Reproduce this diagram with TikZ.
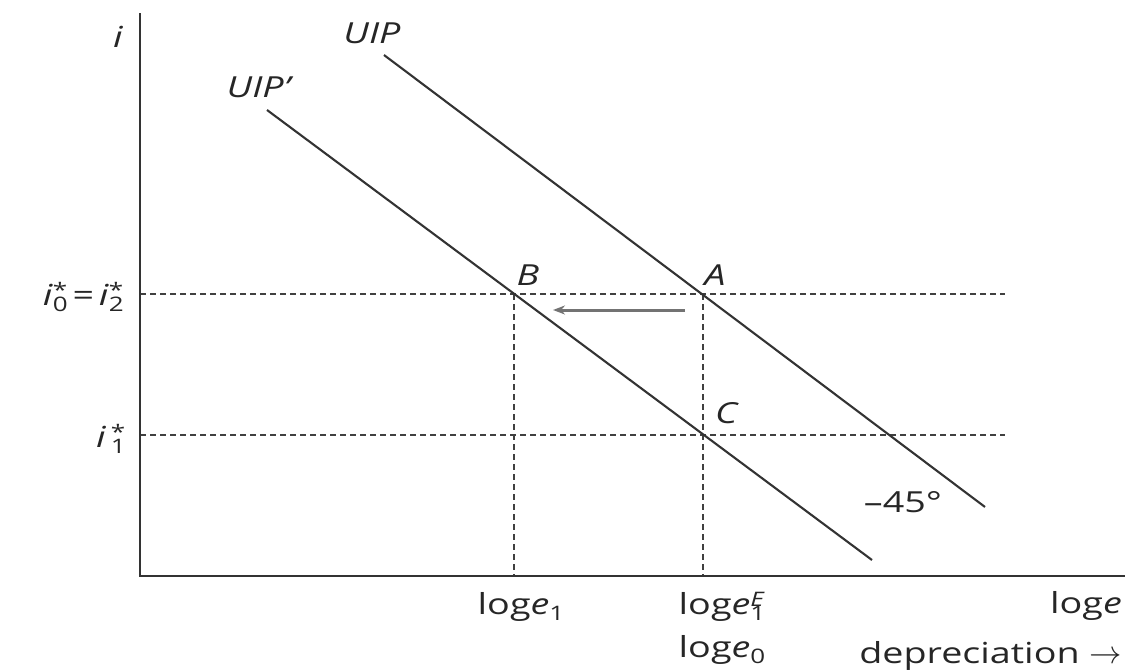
\documentclass[tikz,border=0pt]{standalone}
\usepackage{fontspec}
\setmainfont{Open Sans}[FakeStretch=1.3]
\usetikzlibrary{arrows.meta}
\newcommand\bigfs{\fontsize{29}{34}\selectfont}
\newcommand\smfs{\fontsize{20}{22}\selectfont}
\newcommand\supsub[2]{\raisebox{-0.4ex}{\smfs\begin{tabular}[b]{@{}l@{}}#1\\[-8pt]#2\end{tabular}}}
\newcommand\subonly[1]{\raisebox{-0.4ex}{\smfs #1}}
\begin{document}
\begin{tikzpicture}[x=1pt,y=-1pt,
  lbl/.style={inner sep=0pt,font=\bigfs,text=black!85},
  axisline/.style={line width=2.4pt,draw=black!80},
  curve/.style={line width=2.1pt,draw=black!80},
  guide/.style={line width=2pt,draw=black!75,dash pattern=on 6pt off 4pt},
  shiftarrow/.style={line width=3pt,draw=black!55,-{Stealth[length=12pt,width=9pt]}}]
\useasboundingbox (0,0) rectangle (1125,672);
% coordinates
\coordinate (O) at (140,576);
\coordinate (Ytop) at (140,13);
\coordinate (Xend) at (1125,576);
\coordinate (U1) at (384,55);
\coordinate (U2) at (985,507);
\coordinate (P1) at (267,110);
\coordinate (P2) at (872,560);
\coordinate (A) at (703,294);
\coordinate (B) at (514,294);
\coordinate (C) at (703,435);
\coordinate (H0l) at (140,294);
\coordinate (H0r) at (1005,294);
\coordinate (H1l) at (140,435);
\coordinate (H1r) at (1005,435);
\coordinate (Bb) at (514,576);
\coordinate (Ab) at (703,576);
\coordinate (Ar1) at (685,310);
\coordinate (Ar2) at (553,310);
% guides
\draw[guide] (H0l) -- (H0r);
\draw[guide] (H1l) -- (H1r);
\draw[guide] (B) -- (Bb);
\draw[guide] (A) -- (Ab);
% curves
\draw[curve] (U1) -- (U2);
\draw[curve] (P1) -- (P2);
% axes
\draw[axisline] (Ytop) -- (O) -- (Xend);
% arrow
\draw[shiftarrow] (Ar1) -- (Ar2);
% labels
\node[lbl,anchor=base] (li) at (118,47) {\textit{i}};
\node[lbl,anchor=base] (luip) at (372,43) {\textit{UIP}};
\node[lbl,anchor=base] (luipp) at (260,97) {\textit{UIP’}};
\node[lbl,anchor=base] (lB) at (528,285) {\textit{B}};
\node[lbl,anchor=base] (lA) at (715,285) {\textit{A}};
\node[lbl,anchor=base] (lC) at (727,423) {\textit{C}};
\node[lbl,anchor=base east] (li0) at (124,305) {\textit{i}\supsub{*}{0}\,=\,\textit{i}\supsub{*}{2}};
\node[lbl,anchor=base east] (li1) at (126,447) {\textit{i}\,\supsub{*}{1}};
\node[lbl,anchor=base] (le1) at (521,614) {log\textit{e}\subonly{1}};
\node[lbl,anchor=base] (le1E) at (722,614) {log\textit{e}\supsub{\textit{E}}{1}};
\node[lbl,anchor=base] (le0) at (722,657) {log\textit{e}\subonly{0}};
\node[lbl,anchor=base east] (le) at (1122,613) {log\textit{e}};
\node[lbl,anchor=base east] (ldep) at (1122,663) {depreciation \scalebox{1.3}{$\rightarrow$}};
\node[lbl,anchor=base] (l45) at (903,512) {–45°};
\end{tikzpicture}
\end{document}
